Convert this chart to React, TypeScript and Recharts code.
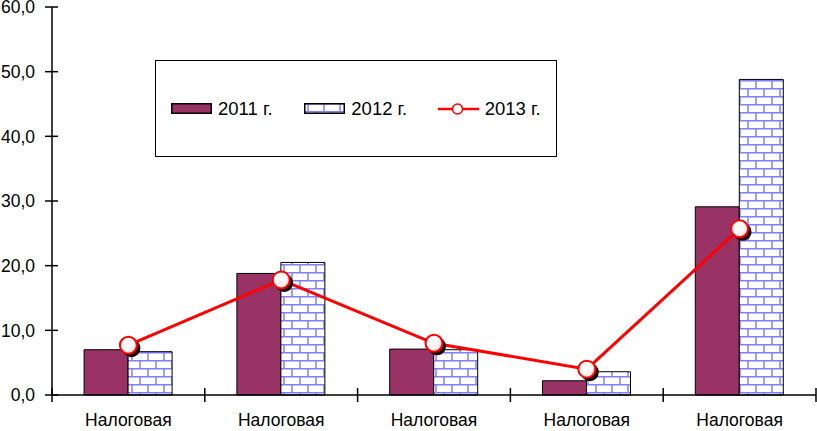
import React from "react"
import { ComposedChart, Bar, Line, XAxis, YAxis, Legend } from "recharts"

const categories = ["Налоговая", "Налоговая", "Налоговая", "Налоговая", "Налоговая"]
const values2011 = [7.0, 18.8, 7.1, 2.2, 29.1]
const values2012 = [6.7, 20.5, 7.0, 3.6, 48.8]
const values2013 = [7.7, 17.8, 8.0, 4.0, 25.7]
const yTicks = [0, 10, 20, 30, 40, 50, 60]
const seriesNames = ["2011 г.", "2012 г.", "2013 г."]

const data = categories.map((name, i) => ({
  name,
  y2011: values2011[i],
  y2012: values2012[i],
  y2013: values2013[i],
}))

const FONT = "'Liberation Sans', Arial, sans-serif"
const MAROON = "#993366"
const BRICK = "#7f7fff"
const RED = "#ff0000"

const fmt = (v: number) => v.toFixed(1).replace(".", ",")

function YTick(props: any) {
  const { x, y, payload } = props
  return (
    <g>
      <line x1={x - 7} x2={x + 6} y1={y} y2={y} stroke="#000" strokeWidth={1.5} />
      <text x={x - 17} y={y} dy="0.36em" textAnchor="end" fontSize={17.5} fontFamily={FONT} fill="#000">
        {fmt(payload.value)}
      </text>
    </g>
  )
}

function XTick(props: any) {
  const { x, y, payload, index, visibleTicksCount } = props
  const half = payload && payload.offset ? payload.offset : 76.4
  const last = index === visibleTicksCount - 1
  return (
    <g>
      <line x1={x - half} x2={x - half} y1={y - 7} y2={y + 7} stroke="#000" strokeWidth={1.5} />
      {last && <line x1={x + half} x2={x + half} y1={y - 7} y2={y + 7} stroke="#000" strokeWidth={1.5} />}
      <text x={x} y={y + 31} textAnchor="middle" fontSize={17.5} fontFamily={FONT} fill="#000">
        {payload.value}
      </text>
    </g>
  )
}

function Marker(props: any) {
  const { cx, cy, index } = props
  if (cx == null || cy == null) return <g key={"m" + index} />
  return (
    <g key={"m" + index}>
      <circle cx={cx + 3} cy={cy + 3} r={9} fill="#1a0000" />
      <circle cx={cx} cy={cy} r={8.5} fill="url(#markerFill)" stroke={RED} strokeWidth={2} />
    </g>
  )
}

function LegendBox() {
  const item: React.CSSProperties = {
    width: 135.5,
    display: "flex",
    alignItems: "center",
    paddingLeft: 15,
    boxSizing: "border-box",
  }
  const label: React.CSSProperties = { marginLeft: 6, fontSize: 18.5, fontFamily: FONT, color: "#000", whiteSpace: "nowrap" }
  return (
    <div
      style={{
        width: 402,
        height: 97,
        border: "1.5px solid #000",
        background: "#fff",
        boxSizing: "border-box",
        display: "flex",
        alignItems: "center",
      }}
    >
      <div style={item}>
        <svg width={41} height={11}>
          <rect x={0.75} y={0.75} width={39.5} height={9.5} fill={MAROON} stroke="#000" strokeWidth={1.5} />
        </svg>
        <span style={label}>{seriesNames[0]}</span>
      </div>
      <div style={item}>
        <svg width={41} height={11}>
          <rect x={0.75} y={0.75} width={39.5} height={9.5} fill="url(#brick)" stroke="#000" strokeWidth={1.5} />
        </svg>
        <span style={label}>{seriesNames[1]}</span>
      </div>
      <div style={item}>
        <svg width={41} height={14}>
          <line x1={0} x2={41} y1={7} y2={7} stroke={RED} strokeWidth={2.5} />
          <circle cx={19.5} cy={7} r={5} fill="#fff" stroke={RED} strokeWidth={1.5} />
        </svg>
        <span style={label}>{seriesNames[2]}</span>
      </div>
    </div>
  )
}

export default function App() {
  return (
    <div style={{ position: "absolute", left: 0, top: 0, width: 817, height: 431, background: "#fff" }}>
      <ComposedChart
        width={817}
        height={431}
        data={data}
        margin={{ top: 7, right: 1, bottom: 0, left: 0 }}
        barCategoryGap="21%"
        barGap={0}
      >
        <defs>
          <pattern id="brick" patternUnits="userSpaceOnUse" width={16} height={16}>
            <rect x={0} y={0} width={16} height={16} fill="#fff" />
            <line x1={0} x2={16} y1={0.75} y2={0.75} stroke={BRICK} strokeWidth={1.5} />
            <line x1={0} x2={16} y1={8.75} y2={8.75} stroke={BRICK} strokeWidth={1.5} />
            <line x1={4} x2={4} y1={0} y2={8} stroke={BRICK} strokeWidth={1.5} />
            <line x1={12} x2={12} y1={8} y2={16} stroke={BRICK} strokeWidth={1.5} />
          </pattern>
          <radialGradient id="markerFill" cx="40%" cy="40%" r="60%">
            <stop offset="0%" stopColor="#ffffff" />
            <stop offset="70%" stopColor="#fff4f4" />
            <stop offset="100%" stopColor="#ffc8c8" />
          </radialGradient>
        </defs>
        <XAxis
          dataKey="name"
          height={36}
          axisLine={{ stroke: "#000", strokeWidth: 1.5 }}
          tickLine={false}
          tickSize={0}
          tickMargin={0}
          tick={<XTick />}
          interval={0}
        />
        <YAxis
          width={52}
          domain={[0, 60]}
          ticks={yTicks}
          axisLine={{ stroke: "#000", strokeWidth: 1.5 }}
          tickLine={false}
          tickSize={0}
          tickMargin={0}
          tick={<YTick />}
          interval={0}
        />
        <Legend
          layout="horizontal"
          verticalAlign="middle"
          align="center"
          content={() => <LegendBox />}
          wrapperStyle={{ left: 155, top: 60, right: "auto", bottom: "auto", width: 402, height: 97 }}
        />
        <Bar dataKey="y2011" name={seriesNames[0]} fill={MAROON} stroke="#000" strokeWidth={1} isAnimationActive={false} />
        <Bar dataKey="y2012" name={seriesNames[1]} fill="url(#brick)" stroke="#000" strokeWidth={1} isAnimationActive={false} />
        <Line
          dataKey="y2013"
          name={seriesNames[2]}
          type="linear"
          stroke={RED}
          strokeWidth={3}
          dot={Marker}
          activeDot={false}
          isAnimationActive={false}
        />
      </ComposedChart>
    </div>
  )
}
